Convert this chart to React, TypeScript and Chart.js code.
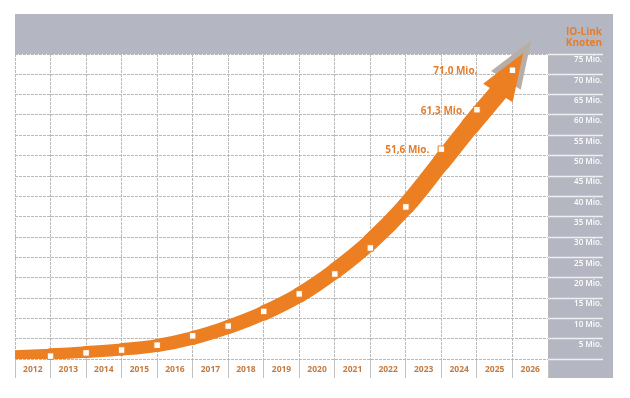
import React, { useEffect, useRef } from 'react';
import { Chart, registerables } from 'chart.js';

Chart.register(...registerables);

// ---- data ----
const years = ['2012', '2013', '2014', '2015', '2016', '2017', '2018', '2019', '2020', '2021', '2022', '2023', '2024', '2025', '2026'];
// markers sit on the year boundaries (1 = between 2012 and 2013)
const markerPositions = [1, 2, 3, 4, 5, 6, 7, 8, 9, 10, 11, 12, 13, 14];
const markerValues = [0.7, 1.5, 2.2, 3.4, 5.7, 8.1, 11.7, 16.0, 20.9, 27.3, 37.4, 51.6, 61.3, 71.0];
const labelledMarkers = [11, 12, 13];
// centre line of the growth arrow
const arrowX = [0, 1, 2, 3, 4, 5, 6, 7, 8, 9, 10, 11, 12, 12.8, 13.59];
const arrowY = [0.86, 1.23, 1.72, 2.34, 3.32, 5.16, 7.87, 11.31, 15.74, 21.64, 28.77, 37.62, 48.44, 57.2, 65.41];
const arrowTipX = 14.3;
const arrowTipY = 75.2;
const yMax = 75;
const yStep = 5;
const unitLabel = 'Mio.';
const axisTitle = ['IO-Link', 'Knoten'];

// ---- styles ----
const ORANGE = '#ec7f22';
const ORANGE_TEXT = '#e67d2a';
const XLABEL = '#c47a3f';
const GRAY = '#b4b6c1';
const SHADOW = '#b8aea6';
const GRID = '#b9b9b9';
const FONT = "'Open Sans', 'DejaVu Sans', sans-serif";

const fmt = (v: number) => v.toFixed(1).replace('.', ',') + ' ' + unitLabel;

const decor = {
  id: 'decor',
  beforeDraw(chart: any) {
    const { ctx, chartArea } = chart;
    const ys = chart.scales.y;
    const xs = chart.scales.x;
    const top = chartArea.top - 40;
    const right = ys.right + 11;
    ctx.save();
    ctx.fillStyle = GRAY;
    ctx.fillRect(chartArea.left, top, right - chartArea.left, chartArea.top - top);
    ctx.fillRect(chartArea.right, top, right - chartArea.right, xs.bottom - top);
    ctx.restore();
  },
  head(chart: any, color: string, shift: number) {
    const meta = chart.getDatasetMeta(0);
    const pts = meta.data;
    const b = pts[pts.length - 1];
    const tx = chart.scales.x.getPixelForValue(arrowTipX);
    const ty = chart.scales.y.getPixelForValue(arrowTipY);
    const len = Math.hypot(tx - b.x, ty - b.y);
    const ux = (tx - b.x) / len;
    const uy = (ty - b.y) / len;
    const vx = -uy;
    const vy = ux;
    const hw = 17.5;
    const dx = ux * shift;
    const dy = uy * shift;
    const ctx = chart.ctx;
    ctx.save();
    ctx.fillStyle = color;
    ctx.beginPath();
    ctx.moveTo(tx + dx, ty + dy);
    ctx.lineTo(b.x + vx * hw + dx, b.y + vy * hw + dy);
    ctx.lineTo(b.x - vx * hw + dx, b.y - vy * hw + dy);
    ctx.closePath();
    ctx.fill();
    ctx.restore();
  },
  beforeDatasetDraw(chart: any, args: any) {
    if (args.index === 0) (decor as any).head(chart, SHADOW, 15);
  },
  afterDatasetDraw(chart: any, args: any) {
    if (args.index === 0) (decor as any).head(chart, ORANGE, 0);
  },
  afterDraw(chart: any) {
    const { ctx, chartArea } = chart;
    const ys = chart.scales.y;
    ctx.save();
    ctx.fillStyle = ORANGE_TEXT;
    ctx.font = `bold 10px ${FONT}`;
    ctx.textAlign = 'right';
    ctx.textBaseline = 'middle';
    ctx.fillText(axisTitle[0], ys.right, chartArea.top - 22);
    ctx.fillText(axisTitle[1], ys.right, chartArea.top - 11);
    const meta = chart.getDatasetMeta(1);
    const last = markerValues.length - 1;
    labelledMarkers.forEach((i) => {
      const p = meta.data[i];
      const gap = i === last ? 35 : 12;
      ctx.fillText(fmt(markerValues[i]), p.x - gap, p.y + 1);
    });
    ctx.restore();
  },
};

export default function App() {
  const ref = useRef<HTMLCanvasElement | null>(null);
  useEffect(() => {
    if (!ref.current) return;
    const n = arrowX.length;
    const chart = new Chart(ref.current, {
      type: 'line',
      data: {
        datasets: [
          {
            data: arrowX.map((x, i) => ({ x, y: arrowY[i] })),
            borderColor: ORANGE,
            borderWidth: 14,
            pointRadius: 0,
            tension: 0.4,
            borderCapStyle: 'round',
            borderJoinStyle: 'round',
            clip: 0,
            order: 2,
            segment: {
              borderWidth: (c: any) => 10 + (9 * c.p1DataIndex) / (n - 1),
            },
          } as any,
          {
            data: markerPositions.map((x, i) => ({ x, y: markerValues[i] })),
            showLine: false,
            pointStyle: 'rect',
            pointRadius: 4.6,
            pointBackgroundColor: '#ffffff',
            pointBorderColor: ORANGE,
            pointBorderWidth: 1,
            clip: false,
            order: 1,
          } as any,
        ],
      },
      options: {
        animation: false,
        responsive: false,
        events: [],
        layout: { padding: { left: 15, top: 54, right: 28, bottom: 20 } },
        plugins: { legend: { display: false }, title: { display: false }, tooltip: { enabled: false } },
        scales: {
          x: {
            type: 'linear',
            min: 0,
            max: years.length,
            afterBuildTicks: (s: any) => {
              s.ticks = [...years.map((_, i) => ({ value: i })), { value: years.length }];
            },
            afterFit: (s: any) => {
              s.height = 19;
            },
            border: { display: false, dash: [3, 1] },
            grid: { color: GRID, lineWidth: 1, tickLength: 19, tickColor: '#c2c2c2' },
            ticks: {
              autoSkip: false,
              maxRotation: 0,
              minRotation: 0,
              padding: -14,
              labelOffset: 17.77,
              color: XLABEL,
              font: { family: FONT, size: 8.5, weight: 'bold' },
              callback: (v: any) => years[v] ?? '',
            },
          },
          y: {
            type: 'linear',
            position: 'right',
            min: 0,
            max: yMax,
            afterBuildTicks: (s: any) => {
              const t = [];
              for (let v = 0; v <= yMax; v += yStep) t.push({ value: v });
              s.ticks = t;
            },
            afterFit: (s: any) => {
              s.width = 54;
            },
            border: { display: false, dash: [3, 1] },
            grid: { color: GRID, lineWidth: 1, tickLength: 55, tickColor: '#eeeff3', tickWidth: 1.3 },
            ticks: {
              crossAlign: 'far',
              labelOffset: 6,
              color: '#ffffff',
              font: { family: FONT, size: 8, weight: '600' },
              callback: (v: any) => (v === 0 ? '' : `${v} ${unitLabel}`),
            },
          },
        },
      },
      plugins: [decor as any],
    });
    return () => chart.destroy();
  }, []);
  return (
    <div style={{ position: 'fixed', left: 0, top: 0, width: 630, height: 398, background: '#fff' }}>
      <canvas ref={ref} width={630} height={398} style={{ display: 'block' }} />
    </div>
  );
}
